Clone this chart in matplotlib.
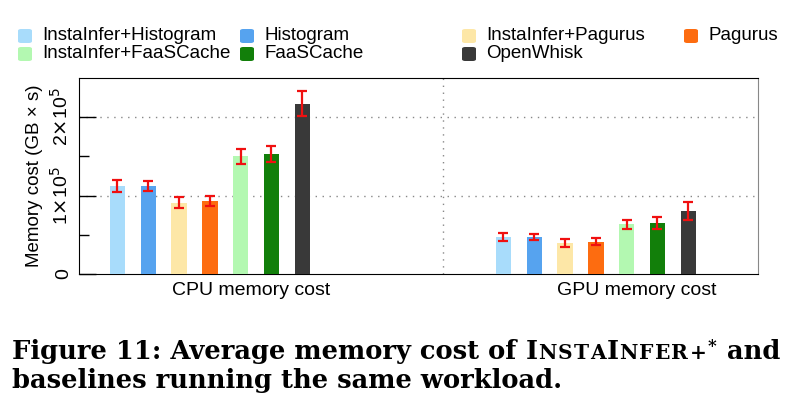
import matplotlib
matplotlib.use("Agg")
import matplotlib.pyplot as plt
from matplotlib.patches import FancyBboxPatch
import numpy as np

plt.rcParams['font.family'] = ['Liberation Sans', 'DejaVu Sans']

groups = ['CPU memory cost', 'GPU memory cost']
systems = ['InstaInfer+Histogram', 'Histogram', 'InstaInfer+Pagurus', 'Pagurus',
           'InstaInfer+FaaSCache', 'FaaSCache', 'OpenWhisk']
colors = ['#a8dcfb', '#56a3ef', '#fde7a7', '#fd6c10', '#b3f8b1', '#127f0a', '#393939']

# memory cost in units of 1e5 GB x s
cpu_mean = [1.124, 1.124, 0.906, 0.932, 1.50, 1.53, 2.17]
cpu_err = [0.08, 0.064, 0.07, 0.064, 0.096, 0.104, 0.16]
gpu_mean = [0.472, 0.472, 0.396, 0.41, 0.634, 0.651, 0.805]
gpu_err = [0.055, 0.043, 0.05, 0.043, 0.057, 0.075, 0.117]

means = [cpu_mean, gpu_mean]
errs = [cpu_err, gpu_err]

fig = plt.figure(figsize=(8.09, 4.13), dpi=100)
ax = fig.add_axes([79/809, 1-274/413, 679/809, 196/413])

step = 0.0798
width = 0.040
for g in range(2):
    xs = g + (np.arange(len(systems)) - 3) * step
    ax.bar(xs, means[g], width, color=colors, zorder=3)
    ax.errorbar(xs, means[g], yerr=errs[g], fmt='none', ecolor='#f01010',
                elinewidth=1.6, capsize=3.8, capthick=1.6, zorder=4)

ax.set_xlim(-0.339, 1.420)
ax.set_ylim(0, 2.5)
ax.set_xticks([0.106, 1.106])
ax.set_xticklabels(groups, fontsize=14)
ax.tick_params(axis='x', length=0, pad=6)

ax.set_yticks([0, 1, 2])
ax.set_yticklabels(['0', r'1$\times$10$^5$', r'2$\times$10$^5$'], rotation=90,
                   va='center', fontsize=14)
ax.set_yticks([0.5, 1.5], minor=True)
ax.tick_params(axis='y', which='major', direction='in', length=12, width=1, pad=5)
ax.tick_params(axis='y', which='minor', direction='in', length=7, width=1)
ax.set_ylabel('Memory cost (GB \u00d7 s)', fontsize=13.5, labelpad=5)

for y in [1, 2]:
    ax.axhline(y, color='#888888', lw=1, ls=(0, (1, 4)), zorder=1)
ax.axvline(0.604, color='#888888', lw=1, ls=(0, (1, 4)), zorder=1)

for s in ['top', 'left', 'bottom']:
    ax.spines[s].set_color('black')
ax.spines['right'].set_color('#888888')

# legend laid out on a fixed grid: 4 columns, 2 rows
for i, (name, c) in enumerate(zip(systems, colors)):
    row, col = i // 4, i % 4
    x0 = 18 + col * 222
    yc = 36 + row * 18
    fig.patches.append(FancyBboxPatch((x0 / 809, 1 - (yc + 7) / 413), 14 / 809, 14 / 413,
                                      boxstyle='round,pad=0,rounding_size=0.004',
                                      transform=fig.transFigure, color=c, lw=0))
    fig.text((x0 + 24) / 809, 1 - yc / 413, name, fontsize=13.5, va='center', ha='left')

# caption with small caps for the system name
renderer = fig.canvas.get_renderer()
cap_font = ['DejaVu Serif']
big, small = 18.5, 14.5
# (text, size, raise in px, extra tracking per char in px)
pieces = [('Figure 11: Average memory cost of ', big, 0, 0), ('I', big, 0, 0.5),
          ('NSTA', small, 0, 1.3), ('I', big, 0, 0.5), ('NFER+', small, 0, 1.3),
          ('*', 12, 8, 2), (' and', big, 0, 0)]
x = 12
base = 413 - 359
for txt, fs, dy, track in pieces:
    chunks = list(txt) if track else [txt]
    for ch in chunks:
        t = fig.text(x / 809, (base + dy) / 413, ch, fontsize=fs, fontweight='bold',
                     family=cap_font, ha='left', va='baseline')
        x += t.get_window_extent(renderer).width + track
fig.text(12 / 809, (413 - 388) / 413, 'baselines running the same workload.', fontsize=big,
         fontweight='bold', family=cap_font, ha='left', va='baseline')

fig.savefig('out.png', dpi=100)
